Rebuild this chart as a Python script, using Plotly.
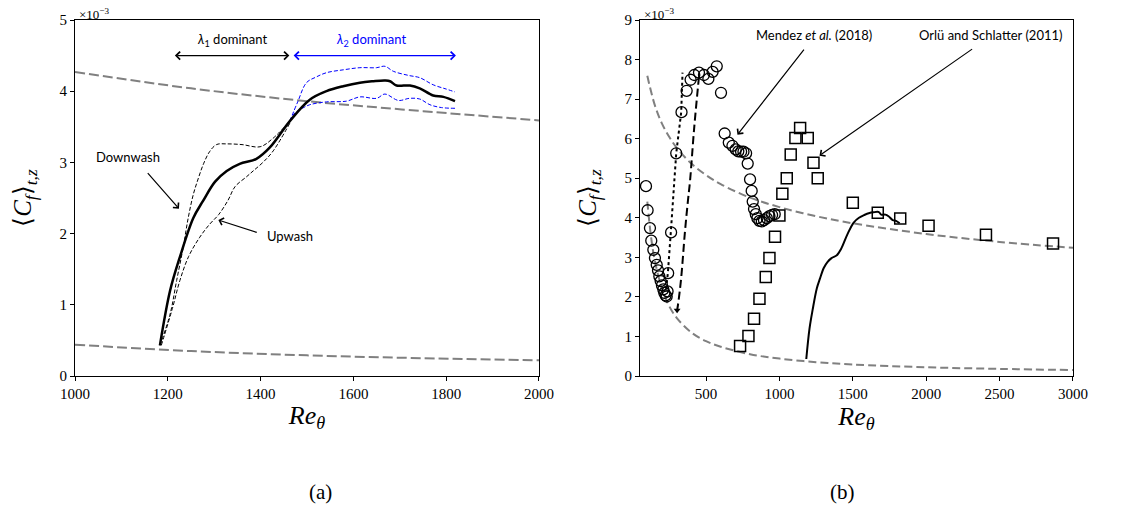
import plotly.graph_objects as go

# ---------------- Panel (a) data ----------------
re_mean = [1183, 1205, 1226, 1255, 1276, 1302, 1327, 1355, 1391, 1420, 1463, 1506, 1542, 1578,
           1614, 1643, 1668, 1679, 1693, 1722, 1743, 1772, 1794, 1819]
cf_mean = [0.43, 1.20, 1.67, 2.22, 2.46, 2.73, 2.88, 2.98, 3.05, 3.21, 3.58, 3.88, 4.00, 4.07,
           4.12, 4.14, 4.15, 4.14, 4.08, 4.08, 4.04, 3.94, 3.92, 3.86]

re_down = [1183, 1205, 1219, 1233, 1244, 1255, 1266, 1277, 1290, 1305, 1327, 1360, 1399, 1427, 1463]
cf_down = [0.43, 0.87, 1.34, 1.80, 2.22, 2.55, 2.78, 2.98, 3.15, 3.25, 3.26, 3.25, 3.22, 3.34, 3.58]

re_up = [1186, 1210, 1226, 1245, 1269, 1290, 1310, 1330, 1345, 1370, 1384, 1405, 1427, 1463]
cf_up = [0.43, 0.95, 1.34, 1.68, 1.95, 2.13, 2.27, 2.47, 2.66, 2.80, 2.88, 3.00, 3.16, 3.55]

re_blue_hi = [1463, 1480, 1499, 1520, 1542, 1578, 1614, 1650, 1668, 1686, 1720, 1743, 1772, 1800, 1819]
cf_blue_hi = [3.58, 3.85, 4.12, 4.20, 4.26, 4.30, 4.33, 4.33, 4.35, 4.28, 4.22, 4.19, 4.09, 4.03, 3.99]

re_blue_lo = [1463, 1470, 1490, 1506, 1542, 1585, 1614, 1650, 1668, 1697, 1721, 1743, 1765, 1790, 1819]
cf_blue_lo = [3.58, 3.67, 3.76, 3.81, 3.85, 3.86, 3.92, 3.90, 3.96, 3.87, 3.90, 3.89, 3.81, 3.77, 3.76]

re_corr_a = [1000, 1250, 1500, 1750, 2000]
cf_turb_a = [4.27, 4.04, 3.86, 3.72, 3.59]
cf_lam_a = [0.44, 0.35, 0.29, 0.25, 0.22]

# ---------------- Panel (b) data ----------------
re_turb_b = [100, 150, 200, 250, 300, 400, 500, 600, 800, 1000, 1250, 1500, 2000, 2500, 3000]
cf_turb_b = [7.59, 6.86, 6.38, 6.04, 5.77, 5.37, 5.08, 4.85, 4.51, 4.27, 4.04, 3.86, 3.59, 3.39, 3.24]
re_lam_b = [100, 125, 150, 200, 250, 300, 400, 500, 600, 800, 1000, 1250, 1500, 2000, 2500, 3000]
cf_lam_b = [4.41, 3.53, 2.94, 2.21, 1.76, 1.47, 1.10, 0.88, 0.74, 0.55, 0.44, 0.35, 0.29, 0.22, 0.18, 0.15]

re_mendez = [91, 102, 118, 127, 141, 152, 164, 173, 182, 191, 200, 209, 216, 225, 232,
             238, 242, 262, 297, 333, 368, 395, 420, 452, 486, 516, 545, 573, 602,
             627, 655, 680, 702, 720, 739, 755, 773, 784, 800, 811, 818, 827, 839,
             850, 864, 880, 895, 914, 932, 950, 968]
cf_mendez = [4.80, 4.19, 3.74, 3.42, 3.19, 2.98, 2.81, 2.67, 2.52, 2.40, 2.29, 2.19, 2.10, 2.04, 2.01,
             2.14, 2.60, 3.63, 5.63, 6.67, 7.21, 7.49, 7.61, 7.67, 7.61, 7.51, 7.69, 7.83, 7.16,
             6.13, 5.90, 5.82, 5.73, 5.68, 5.67, 5.67, 5.63, 5.37, 4.97, 4.68, 4.41, 4.22, 4.09,
             3.99, 3.92, 3.91, 3.94, 3.99, 4.04, 4.07, 4.09]

re_orlu = [732, 789, 827, 864, 907, 932, 970, 1000, 1020, 1050, 1077, 1109, 1141, 1193, 1232, 1261,
           1500, 1670, 1823, 2016, 2407, 2864]
cf_orlu = [0.76, 1.01, 1.45, 1.95, 2.50, 2.98, 3.52, 4.06, 4.61, 5.00, 5.60, 6.02, 6.27, 6.02, 5.39, 5.00,
           4.38, 4.13, 3.98, 3.80, 3.57, 3.35]

re_dotted = [228, 240, 260, 297, 331, 340]
cf_dotted = [2.20, 2.60, 3.63, 5.63, 6.67, 7.67]

re_dashed = [452, 420, 391, 377, 357, 330, 311, 303]
cf_dashed = [7.57, 6.30, 4.93, 4.44, 3.67, 2.45, 1.85, 1.66]

GRAY = "#808080"
BLUE = "#0000ff"
SERIF = "Liberation Serif"
SANS = "Lato"

fig = go.Figure()

def add(x, y, xa, ya, **kw):
    fig.add_trace(go.Scatter(x=x, y=y, xaxis=xa, yaxis=ya, showlegend=False, hoverinfo="skip", **kw))

# panel a
add(re_corr_a, cf_turb_a, "x", "y", mode="lines", line=dict(color=GRAY, width=2, dash="10px,4px", shape="spline"))
add(re_corr_a, cf_lam_a, "x", "y", mode="lines", line=dict(color=GRAY, width=2, dash="10px,4px", shape="spline"))
add(re_down, cf_down, "x", "y", mode="lines", line=dict(color="black", width=1, dash="4px,2px", shape="spline"))
add(re_up, cf_up, "x", "y", mode="lines", line=dict(color="black", width=1, dash="4px,2px", shape="spline"))
add(re_blue_hi, cf_blue_hi, "x", "y", mode="lines", line=dict(color=BLUE, width=1, dash="4px,2px", shape="spline"))
add(re_blue_lo, cf_blue_lo, "x", "y", mode="lines", line=dict(color=BLUE, width=1, dash="4px,2px", shape="spline"))
add(re_mean, cf_mean, "x", "y", mode="lines", line=dict(color="black", width=2.5, shape="spline"))

# panel b
add(re_turb_b, cf_turb_b, "x2", "y2", mode="lines", line=dict(color=GRAY, width=2, dash="8px,4px", shape="spline"))
add(re_lam_b, cf_lam_b, "x2", "y2", mode="lines", line=dict(color=GRAY, width=2, dash="8px,4px", shape="spline"))
add(re_dotted, cf_dotted, "x2", "y2", mode="lines", line=dict(color="black", width=2, dash="dot"))
add(re_dashed, cf_dashed, "x2", "y2", mode="lines", line=dict(color="black", width=2, dash="8px,4px", shape="spline"))
add(re_dashed[-1:], cf_dashed[-1:], "x2", "y2", mode="markers",
    marker=dict(symbol="triangle-down", size=6, color="black"))
add(re_mendez, cf_mendez, "x2", "y2", mode="markers",
    marker=dict(symbol="circle-open", size=11, color="black", line=dict(width=1.3)))
add(re_orlu, cf_orlu, "x2", "y2", mode="markers",
    marker=dict(symbol="square-open", size=11, color="black", line=dict(width=1.5)))
add(re_mean, cf_mean, "x2", "y2", mode="lines", line=dict(color="black", width=2, shape="spline"))

axis_common = dict(showgrid=False, zeroline=False, showline=True, mirror=True, linecolor="black",
                   linewidth=1, ticks="outside", ticklen=4, tickcolor="black",
                   tickfont=dict(family=SERIF, size=15, color="black"))

xtitle = dict(text="<i>Re</i><sub><i>θ</i></sub>", font=dict(family=SERIF, size=26, color="black"), standoff=4)
ytitle = dict(text="⟨<i>C</i><sub><i>f</i></sub>⟩<sub><i>t,z</i></sub>", font=dict(family=SERIF, size=25, color="black"),
              standoff=20)

fig.update_layout(
    width=1133, height=514,
    margin=dict(l=75, r=60, t=18, b=138),
    paper_bgcolor="white", plot_bgcolor="white",
    xaxis=dict(domain=[0, 0.4649], anchor="y", range=[1000, 2000], tickvals=[1000, 1200, 1400, 1600, 1800, 2000],
               title=xtitle, **axis_common),
    yaxis=dict(domain=[0, 1], anchor="x", range=[0, 5], tickvals=[0, 1, 2, 3, 4, 5], title=ytitle, **axis_common),
    xaxis2=dict(domain=[0.5661, 1], anchor="y2", range=[50, 3000], tickvals=[500, 1000, 1500, 2000, 2500, 3000],
                title=xtitle, **axis_common),
    yaxis2=dict(domain=[0, 1], anchor="x2", range=[0, 9], tickvals=list(range(10)), title=ytitle, **axis_common),
)

ann = []
txt = dict(family=SANS, size=13, color="black")
# multipliers
for xp in [0.0, 0.5661]:
    ann.append(dict(xref="paper", yref="paper", x=xp, y=1.0, xanchor="left", yanchor="bottom",
                    text="×10<sup>−3</sup>", showarrow=False, font=dict(family=SERIF, size=13, color="black"),
                    yshift=-4, xshift=2))
# panel a texts
ann.append(dict(xref="x", yref="y", x=1338, y=4.72, text="<i>λ</i><sub>1</sub> dominant", showarrow=False, font=txt))
ann.append(dict(xref="x", yref="y", x=1637, y=4.72, text="<i>λ</i><sub>2</sub> dominant", showarrow=False,
                font=dict(family=SANS, size=13, color=BLUE)))
ann.append(dict(xref="x", yref="y", x=1462, y=4.50, ax=1212, ay=4.50, axref="x", ayref="y", text="",
                showarrow=True, arrowhead=4, startarrowhead=4, arrowside="end+start", arrowwidth=1.3,
                arrowcolor="black", arrowsize=1.2, startarrowsize=1.2))
ann.append(dict(xref="x", yref="y", x=1821, y=4.50, ax=1468, ay=4.50, axref="x", ayref="y", text="",
                showarrow=True, arrowhead=4, startarrowhead=4, arrowside="end+start", arrowwidth=1.3,
                arrowcolor=BLUE, arrowsize=1.2, startarrowsize=1.2))
ann.append(dict(xref="x", yref="y", x=1115, y=3.07, text="Downwash", showarrow=False, font=txt))
ann.append(dict(xref="x", yref="y", x=1224, y=2.35, ax=1154, ay=2.87, axref="x", ayref="y", text="",
                showarrow=True, arrowhead=4, arrowwidth=1.2, arrowcolor="black", arrowsize=1.2))
ann.append(dict(xref="x", yref="y", x=1463, y=1.97, text="Upwash", showarrow=False, font=txt))
ann.append(dict(xref="x", yref="y", x=1309, y=2.19, ax=1395, ay=2.01, axref="x", ayref="y", text="",
                showarrow=True, arrowhead=4, arrowwidth=1.2, arrowcolor="black", arrowsize=1.2))
# panel b texts
ann.append(dict(xref="x2", yref="y2", x=1239, y=8.62, text="Mendez <i>et al.</i> (2018)", showarrow=False, font=txt))
ann.append(dict(xref="x2", yref="y2", x=714, y=6.10, ax=1175, ay=8.29, axref="x2", ayref="y2", text="",
                showarrow=True, arrowhead=4, arrowwidth=1.2, arrowcolor="black", arrowsize=1.2))
ann.append(dict(xref="x2", yref="y2", x=2441, y=8.62, text="Orlü and Schlatter (2011)", showarrow=False, font=txt))
ann.append(dict(xref="x2", yref="y2", x=1273, y=5.57, ax=2323, ay=8.29, axref="x2", ayref="y2", text="",
                showarrow=True, arrowhead=4, arrowwidth=1.2, arrowcolor="black", arrowsize=1.2))
# subplot labels
ann.append(dict(xref="paper", yref="paper", x=0.2325, y=-0.327, yanchor="middle", text="(a)", showarrow=False,
                font=dict(family=SERIF, size=21, color="black")))
ann.append(dict(xref="paper", yref="paper", x=0.7836, y=-0.327, yanchor="middle", text="(b)", showarrow=False,
                font=dict(family=SERIF, size=21, color="black")))
fig.update_layout(annotations=ann)

fig.write_html("out.html")
